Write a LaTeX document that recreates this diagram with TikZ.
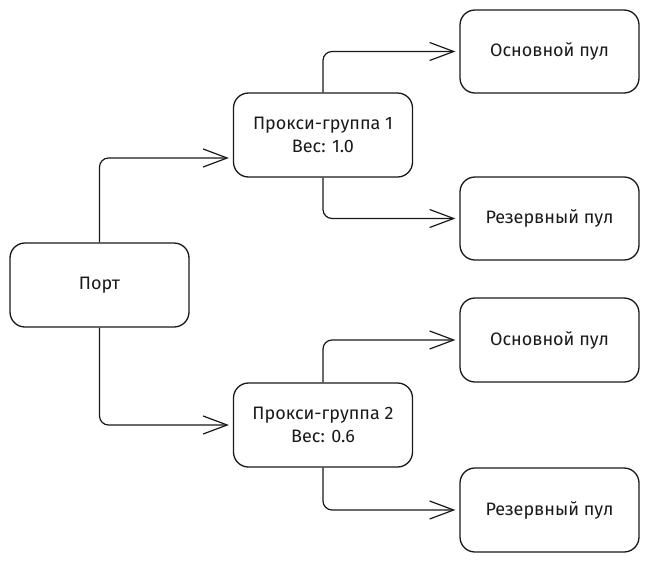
\documentclass[tikz,border=0pt]{standalone}
\usepackage{fontspec}
\setmainfont{Fira Sans}
\usetikzlibrary{arrows.meta,calc}
\begin{document}
\begin{tikzpicture}[x=1pt,y=-1pt,
  box/.style={draw=black!90,line width=1.3pt,rounded corners=15pt,minimum width=179pt,minimum height=84pt,inner sep=0pt,align=center,font=\fontsize{18}{23}\selectfont,text=black!90},
  conn/.style={draw=black!90,line width=1.2pt,rounded corners=9pt,shorten >=4pt,-{Straight Barb[length=24pt,width=18pt,line width=1.2pt]}}]
\useasboundingbox (0,0) rectangle (648,560);
\node[box] (port) at (99.5,285) {Порт};
\node[box] (p1) at (323,135) {Прокси-группа 1\\Вес: 1.0};
\node[box] (p2) at (323,425) {Прокси-группа 2\\Вес: 0.6};
\node[box,minimum height=83pt] (m1) at (549.5,51.5) {Основной пул};
\node[box,minimum height=83pt] (r1) at (549.5,218.5) {Резервный пул};
\node[box] (m2) at (549.5,340) {Основной пул};
\node[box] (r2) at (549.5,510) {Резервный пул};
\draw[conn] (port.north) |- ($(p1.west)+(0,23)$);
\draw[conn] (port.south) |- (p2.west);
\draw[conn] (p1.north) |- (m1.west);
\draw[conn] (p1.south) |- (r1.west);
\draw[conn] (p2.north) |- (m2.west);
\draw[conn] (p2.south) |- (r2.west);
\end{tikzpicture}
\end{document}
